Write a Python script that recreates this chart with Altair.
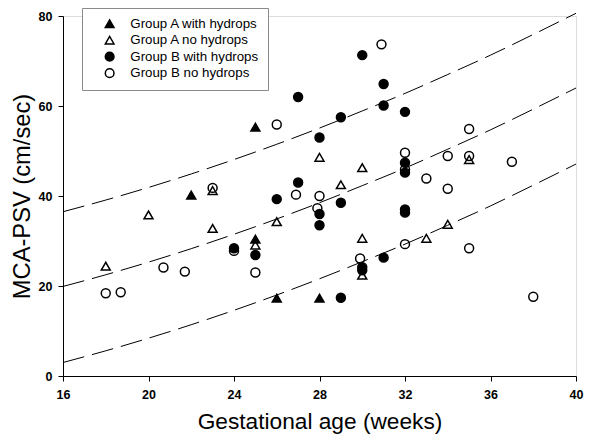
import altair as alt
import pandas as pd

# ---- data ----
groups = ["Group A with hydrops", "Group A no hydrops", "Group B with hydrops", "Group B no hydrops"]

a_hyd_ga  = [22, 25, 25, 26, 28]
a_hyd_psv = [40.2, 55.3, 30.4, 17.3, 17.3]

a_no_ga  = [18, 20, 23, 23, 25, 26, 28, 29, 30, 30, 30, 33, 34, 35]
a_no_psv = [24.4, 35.8, 41.2, 32.8, 29.1, 34.3, 48.6, 42.5, 46.3, 30.6, 22.4, 30.6, 33.7, 48.1]

b_hyd_ga  = [24, 25, 26, 27, 27, 28, 28, 28, 29, 29, 29, 30, 30, 30, 31, 31, 31, 32, 32, 32, 32, 32]
b_hyd_psv = [28.4, 26.9, 39.3, 62.0, 43.0, 53.0, 36.0, 33.5, 57.5, 38.5, 17.4, 71.3, 24.2, 23.5,
             64.9, 60.1, 26.3, 58.7, 47.4, 45.2, 37.0, 36.3]

b_no_ga  = [18, 18.7, 20.7, 21.7, 23, 24, 25, 26, 26.9, 28, 27.9, 29.9, 30.9, 32, 32, 32,
            33, 34, 34, 35, 35, 35, 37, 38]
b_no_psv = [18.4, 18.6, 24.1, 23.2, 41.8, 27.8, 23.0, 55.9, 40.3, 40.0, 37.3, 26.1, 73.7, 49.6,
            45.9, 29.3, 43.9, 48.9, 41.6, 54.9, 48.9, 28.4, 47.6, 17.6]

# reference curves
curve_ga    = [16, 18, 20, 22, 24, 26, 28, 30, 32, 34, 36, 38, 40]
curve_upper = [36.5, 39.1, 41.9, 44.9, 48.1, 51.5, 55.1, 58.9, 62.8, 67.0, 71.3, 75.9, 80.6]
curve_mid   = [19.9, 22.5, 25.3, 28.3, 31.5, 34.9, 38.5, 42.3, 46.2, 50.4, 54.7, 59.3, 64.0]
curve_lower = [3.0, 5.6, 8.4, 11.4, 14.6, 18.0, 21.6, 25.4, 29.3, 33.5, 37.8, 42.4, 47.1]

x_ticks = [16, 20, 24, 28, 32, 36, 40]
y_ticks = [0, 20, 40, 60, 80]

# ---- tables ----
rows = []
for g, xs, ys in zip(groups,
                     [a_hyd_ga, a_no_ga, b_hyd_ga, b_no_ga],
                     [a_hyd_psv, a_no_psv, b_hyd_psv, b_no_psv]):
    for xv, yv in zip(xs, ys):
        rows.append({"ga": xv, "psv": yv, "group": g})
pts = pd.DataFrame(rows)

crows = []
for name, vals in [("upper", curve_upper), ("mid", curve_mid), ("lower", curve_lower)]:
    for xv, yv in zip(curve_ga, vals):
        crows.append({"ga": xv, "psv": yv, "curve": name})
curves = pd.DataFrame(crows)

FONT = "Liberation Sans"

xscale = alt.Scale(domain=[16, 40], nice=False, zero=False)
yscale = alt.Scale(domain=[0, 80], nice=False)

xaxis = alt.Axis(values=x_ticks, title="Gestational age (weeks)", grid=False,
                 labelFontWeight="bold", labelFontSize=12.5, labelPadding=7,
                 titleFontSize=22.7, titleFontWeight="normal", titlePadding=10,
                 tickSize=5, labelFlush=False)
yaxis = alt.Axis(values=y_ticks, title="MCA-PSV (cm/sec)", grid=False,
                 labelFontWeight="bold", labelFontSize=12.5, labelPadding=6,
                 titleFontSize=23.7, titleFontWeight="normal", titlePadding=4,
                 tickSize=5, labelFlush=False)

lines = alt.Chart(curves).mark_line(
    stroke="black", strokeWidth=1, strokeDash=[22, 8], interpolate="monotone"
).encode(
    x=alt.X("ga:Q", scale=xscale, axis=xaxis),
    y=alt.Y("psv:Q", scale=yscale, axis=yaxis),
    detail="curve:N",
)

legend = alt.Legend(title=None, orient="none", legendX=19, legendY=-8,
                    strokeColor="#8a8a8a", fillColor="white", padding=9,
                    symbolOffset=12, labelOffset=14, labelFontSize=13.3,
                    labelFont=FONT, symbolSize=75, symbolStrokeWidth=1.5,
                    rowPadding=1.5, labelLimit=300)

points = alt.Chart(pts).mark_point(
    size=80, strokeWidth=1.5, opacity=1
).encode(
    x=alt.X("ga:Q", scale=xscale),
    y=alt.Y("psv:Q", scale=yscale),
    shape=alt.Shape("group:N", scale=alt.Scale(
        domain=groups, range=["triangle-up", "triangle-up", "circle", "circle"]), legend=legend),
    fill=alt.Fill("group:N", scale=alt.Scale(
        domain=groups, range=["black", "transparent", "black", "transparent"]), legend=legend),
    stroke=alt.Stroke("group:N", scale=alt.Scale(
        domain=groups, range=["black", "black", "black", "black"]), legend=legend),
)

chart = alt.layer(lines, points).properties(
    width=513, height=360,
    autosize=alt.AutoSizeParams(type="none"),
    padding={"left": 55, "top": 8, "right": 16, "bottom": 59},
).configure_view(stroke=None).configure(font=FONT).configure_axis(
    domainColor="black", tickColor="black", labelColor="black", titleColor="black",
    domainWidth=1, tickWidth=1, labelFont=FONT, titleFont=FONT,
)

chart.save("out.html", embed_options={"renderer": "svg", "actions": False})
